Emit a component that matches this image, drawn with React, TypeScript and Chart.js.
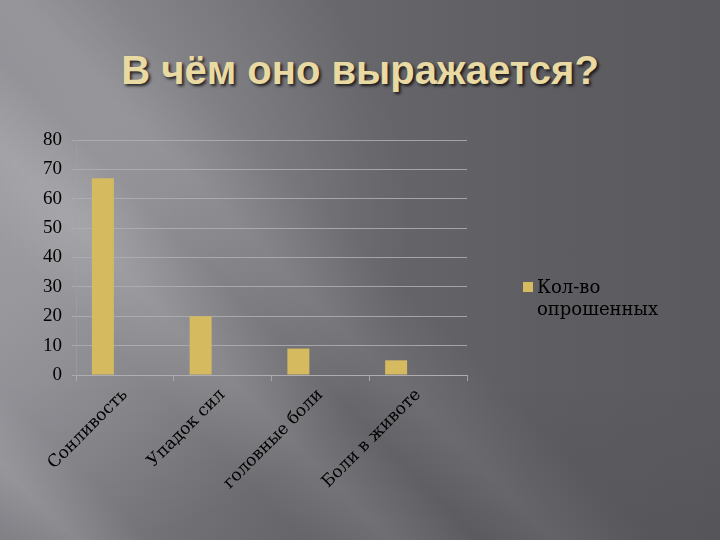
import React, { useEffect, useRef } from "react";
import { Chart, registerables } from "chart.js";

Chart.register(...registerables);

const titleText = "В чём оно выражается?";
const categories = ["Сонливость", "Упадок сил", "головные боли", "Боли в животе"];
const seriesName = ["Кол-во", "опрошенных"];
const seriesValues = [67, 20, 9, 5];
const emptySeries = [null, null, null, null];
const yTicks = [0, 10, 20, 30, 40, 50, 60, 70, 80];

const BAR_COLOR = "#D5BA60";
const GRID_COLOR = "rgba(175,175,180,0.85)";

export default function App() {
  const ref = useRef<HTMLCanvasElement | null>(null);

  useEffect(() => {
    if (!ref.current) return;
    const legendPlugin = {
      id: "customLegend",
      afterDraw(chart: any) {
        const ctx = chart.ctx;
        ctx.save();
        ctx.fillStyle = BAR_COLOR;
        ctx.fillRect(523, 282, 10, 10);
        ctx.fillStyle = "#000";
        ctx.font = "18px 'DejaVu Serif'";
        ctx.textBaseline = "alphabetic";
        ctx.textAlign = "left";
        ctx.fillText(seriesName[0], 537, 293);
        ctx.fillText(seriesName[1], 537, 315);
        ctx.restore();
      },
    };
    const chart = new Chart(ref.current, {
      type: "bar",
      data: {
        labels: categories,
        datasets: [
          {
            label: seriesName.join(" "),
            data: seriesValues,
            backgroundColor: BAR_COLOR,
            categoryPercentage: 0.9,
            barPercentage: 0.5,
          },
          {
            label: "",
            data: emptySeries as any,
            backgroundColor: "transparent",
            categoryPercentage: 0.9,
            barPercentage: 0.5,
          },
        ],
      },
      options: {
        animation: false,
        responsive: false,
        layout: { padding: { left: 0, top: 140, right: 253, bottom: 0 } },
        plugins: {
          legend: { display: false },
          title: { display: false },
          tooltip: { enabled: false },
        },
        scales: {
          x: {
            grid: {
              display: true,
              drawOnChartArea: false,
              drawTicks: true,
              tickLength: 6,
              color: GRID_COLOR,
              offset: true,
            },
            border: { display: true, color: GRID_COLOR },
            ticks: {
              color: "#000",
              font: { family: "'DejaVu Serif'", size: 17 },
              minRotation: 45,
              maxRotation: 45,
              autoSkip: false,
              padding: 4,
            },
            afterFit(scale: any) {
              scale.height = 165;
            },
          },
          y: {
            min: 0,
            max: 80,
            afterBuildTicks(scale: any) {
              scale.ticks = yTicks.map((v) => ({ value: v }));
            },
            grid: {
              color: GRID_COLOR,
              tickLength: 4,
              drawTicks: true,
            },
            border: { display: true, color: "rgba(160,160,165,0.6)" },
            ticks: {
              color: "#000",
              font: { family: "'Liberation Serif'", size: 19 },
              padding: 10,
            },
            afterFit(scale: any) {
              scale.width = 76;
            },
          },
        },
      },
      plugins: [legendPlugin],
    });
    return () => chart.destroy();
  }, []);

  return (
    <div
      style={{
        position: "fixed",
        left: 0,
        top: 0,
        width: 720,
        height: 540,
        overflow: "hidden",
        background:
          "linear-gradient(45deg, rgba(255,255,255,0) 0%, rgba(255,255,255,0.12) 6%, rgba(255,255,255,0) 12%, rgba(255,255,255,0) 24%, rgba(255,255,255,0.1) 31%, rgba(255,255,255,0) 38%, rgba(255,255,255,0.07) 44%, rgba(255,255,255,0) 52%)," +
          "radial-gradient(ellipse 45% 60% at 12% 40%, rgba(255,255,255,0.22) 0%, rgba(255,255,255,0.1) 50%, rgba(255,255,255,0) 100%)," +
          "linear-gradient(to bottom, rgba(0,0,0,0) 0%, rgba(0,0,0,0) 70%, rgba(0,0,0,0.06) 100%)," +
          "linear-gradient(to right, #88888e 0%, #76767b 25%, #66666b 50%, #5d5d62 75%, #5a5a5f 100%)",
      }}
    >
      <div
        style={{
          position: "absolute",
          left: 0,
          top: 48,
          width: 720,
          textAlign: "center",
          fontFamily: "'Liberation Sans', Arial, sans-serif",
          fontWeight: "bold",
          fontSize: 40,
          color: "#E9D9A2",
          textShadow: "2px 2px 3px rgba(0,0,0,0.75)",
          whiteSpace: "nowrap",
        }}
      >
        {titleText}
      </div>
      <canvas
        ref={ref}
        width={720}
        height={540}
        style={{ position: "absolute", left: 0, top: 0, width: 720, height: 540 }}
      />
    </div>
  );
}
